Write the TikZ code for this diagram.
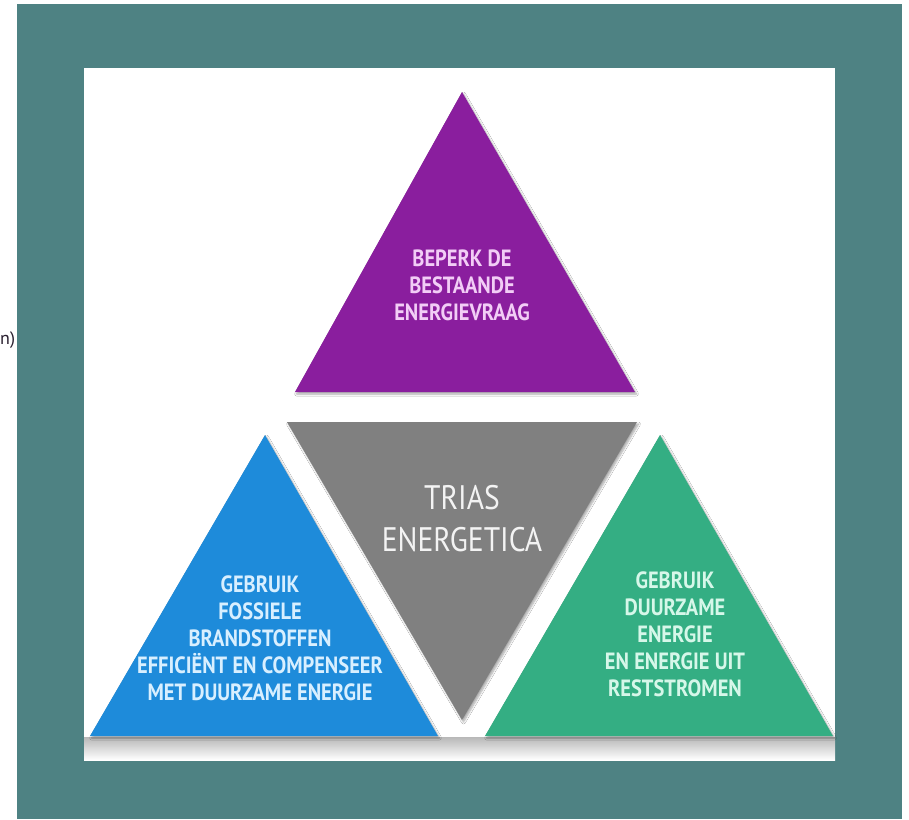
\documentclass[tikz,border=0pt]{standalone}
\usepackage{fontspec}
\setmainfont{PT Sans}
\newfontfamily\condf{PT Sans}[FakeStretch=0.87]
\usetikzlibrary{shadows.blur}
\definecolor{teal0}{HTML}{4E8283}
\definecolor{purp}{HTML}{8A1E9E}
\definecolor{bluet}{HTML}{1E8BDA}
\definecolor{greent}{HTML}{34AE83}
\definecolor{grayt}{HTML}{808080}
\definecolor{purptxt}{HTML}{F2CDF6}
\definecolor{bluetxt}{HTML}{D8EFFF}
\definecolor{greentxt}{HTML}{D6F7E9}
\definecolor{graytxt}{HTML}{F3F3F3}
\tikzset{
  tri/.style={blur shadow={shadow xshift=1.5pt,shadow yshift=-2pt,shadow blur steps=6,shadow opacity=35}},
  lbl/.style={align=center,font=\condf\bfseries\fontsize{23.5}{27}\selectfont,inner sep=0pt},
  big/.style={align=center,font=\condf\fontsize{34}{42}\selectfont,inner sep=0pt,text=graytxt}
}
\begin{document}
\begin{tikzpicture}[x=1pt,y=-1pt]
\useasboundingbox (0,0) rectangle (909,819);
\fill[white] (0,0) rectangle (909,819);
\fill[teal0] (17,4) rectangle (902,819);
\fill[white] (84,68) rectangle (835,760);
\shade[top color=black!28,bottom color=white] (84,737) rectangle (835,760);
% triangles
\fill[purp,tri] (462,92) -- (635,392) -- (295,392) -- cycle;
\fill[grayt,tri] (287,422) -- (637,422) -- (462,720) -- cycle;
\fill[bluet,tri] (265,435) -- (438,736) -- (90,736) -- cycle;
\fill[greent,tri] (660,435) -- (833,736) -- (485,736) -- cycle;
% texts
\node[lbl,text=purptxt] (beperk) at (462,285) {BEPERK DE\\BESTAANDE\\ENERGIEVRAAG};
\node[big] (trias) at (462,519) {TRIAS\\ENERGETICA};
\node[lbl,text=bluetxt] (fossiel) at (260,638) {GEBRUIK\\FOSSIELE\\BRANDSTOFFEN\\EFFICIËNT EN COMPENSEER\\MET DUURZAME ENERGIE};
\node[lbl,text=greentxt] (duurzaam) at (675,634) {GEBRUIK\\DUURZAME\\ENERGIE\\EN ENERGIE UIT\\RESTSTROMEN};
\node[anchor=west,inner sep=0pt,font=\fontsize{18}{22}\selectfont,text={rgb,255:red,42;green,32;blue,48}] (frag) at (0,340) {n)};
\end{tikzpicture}
\end{document}
